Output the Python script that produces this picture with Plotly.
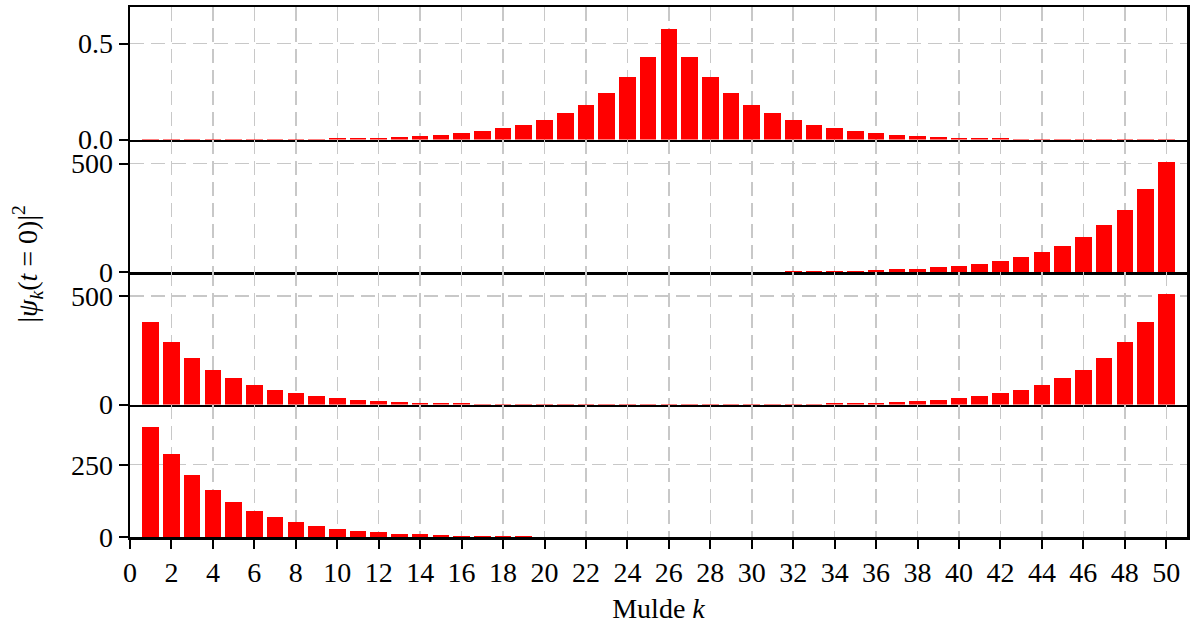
import plotly.graph_objects as go
from plotly.subplots import make_subplots

# Mulden k = 1 .. 50
mulde = list(range(1, 51))

# Panel 1: Wellenpaket um Mulde 26
psi_mitte = [
    0.0004, 0.0006, 0.0008, 0.0010, 0.0014, 0.0018, 0.0024, 0.0033, 0.0043, 0.0058,
    0.0077, 0.0103, 0.0137, 0.0183, 0.0243, 0.0325, 0.0433, 0.0577, 0.0769, 0.103,
    0.137, 0.182, 0.243, 0.324, 0.432, 0.576, 0.432, 0.324, 0.243, 0.182,
    0.137, 0.103, 0.0769, 0.0577, 0.0433, 0.0325, 0.0243, 0.0183, 0.0137, 0.0103,
    0.0077, 0.0058, 0.0043, 0.0033, 0.0024, 0.0018, 0.0014, 0.0010, 0.0008, 0.0006,
]

# Panel 2: am rechten Rand konzentriert
psi_rechts = [
    0.0004, 0.0005, 0.0007, 0.0009, 0.0012, 0.0016, 0.002, 0.003, 0.004, 0.005,
    0.007, 0.009, 0.012, 0.016, 0.02, 0.03, 0.04, 0.05, 0.07, 0.09,
    0.12, 0.16, 0.22, 0.29, 0.38, 0.51, 0.68, 0.91, 1.21, 1.61,
    2.15, 2.87, 3.83, 5.10, 6.80, 9.07, 12.1, 16.1, 21.5, 28.7,
    38.2, 50.9, 67.9, 90.6, 120.8, 161.0, 214.7, 286.3, 381.8, 509.0,
]

# Panel 3: an beiden Raendern
psi_beide = [
    382.0, 286.5, 214.9, 161.2, 120.9, 90.7, 68.0, 51.0, 38.3, 28.7,
    21.5, 16.1, 12.1, 9.08, 6.81, 5.11, 3.83, 2.88, 2.16, 1.62,
    1.21, 0.91, 0.68, 0.52, 0.42, 0.54, 0.69, 0.91, 1.21, 1.61,
    2.15, 2.87, 3.83, 5.10, 6.80, 9.07, 12.1, 16.1, 21.5, 28.7,
    38.2, 50.9, 67.9, 90.6, 120.8, 161.0, 214.7, 286.3, 381.8, 509.0,
]

# Panel 4: am linken Rand konzentriert
psi_links = [
    382.0, 286.5, 214.9, 161.2, 120.9, 90.7, 68.0, 51.0, 38.3, 28.7,
    21.5, 16.1, 12.1, 9.08, 6.81, 5.11, 3.83, 2.88, 2.16, 1.62,
    1.21, 0.91, 0.68, 0.51, 0.38, 0.29, 0.22, 0.16, 0.12, 0.09,
    0.07, 0.05, 0.04, 0.03, 0.02, 0.016, 0.012, 0.009, 0.007, 0.005,
    0.004, 0.003, 0.002, 0.0016, 0.0012, 0.0009, 0.0007, 0.0005, 0.0004, 0.0003,
]

x_ticks = list(range(0, 51, 2))
panels = [
    (psi_mitte, [0.0, 0.5], ["0.0", "0.5"]),
    (psi_rechts, [0, 500], ["0", "500"]),
    (psi_beide, [0, 500], ["0", "500"]),
    (psi_links, [0, 250], ["0", "250"]),
]

FONT = "Liberation Serif, Times New Roman, serif"
GRID = "#c8c8c8"
LW = 2.5

fig = make_subplots(rows=4, cols=1, shared_xaxes=True, vertical_spacing=0)

for i, (werte, tv, tt) in enumerate(panels, start=1):
    fig.add_trace(
        go.Bar(x=mulde, y=werte, width=0.8,
               marker=dict(color="#ff0000", line=dict(width=0)),
               showlegend=False),
        row=i, col=1,
    )
    fig.update_yaxes(
        range=[0, 1.2 * max(werte)],
        tickvals=tv, ticktext=tt,
        ticks="outside", ticklen=9, tickwidth=2, tickcolor="black",
        showline=True, linecolor="black", linewidth=LW, mirror=True,
        showgrid=True, gridcolor=GRID, gridwidth=1.5, griddash="14px,7px",
        zeroline=False,
        tickfont=dict(family=FONT, size=28, color="black"),
        row=i, col=1,
    )
    fig.update_xaxes(
        range=[0, 51],
        tickvals=x_ticks,
        ticks="outside" if i == 4 else "", ticklen=9, tickwidth=2, tickcolor="black",
        showticklabels=(i == 4),
        # only the top panel draws its upper frame; the panel above
        # supplies the shared boundary line for the others
        showline=True, linecolor="black", linewidth=LW, mirror=(i == 1),
        showgrid=True, gridcolor=GRID, gridwidth=1.5, griddash="14px,7px",
        zeroline=False,
        tickfont=dict(family=FONT, size=28, color="black"),
        row=i, col=1,
    )

fig.update_xaxes(
    title=dict(text="Mulde <i>k</i>", font=dict(family=FONT, size=28, color="black"), standoff=12),
    row=4, col=1,
)

fig.add_annotation(
    text="|<i>ψ<sub>k</sub></i>(<i>t</i> = 0)|<sup>2</sup>",
    xref="paper", yref="paper", x=-0.097, y=0.515,
    xanchor="center", yanchor="middle", textangle=-90, showarrow=False,
    font=dict(family=FONT, size=28, color="black"),
)

fig.update_layout(
    width=1199, height=626,
    margin=dict(l=130, r=12, t=4, b=89),
    paper_bgcolor="white", plot_bgcolor="white",
    bargap=0,
)

# static rendering keeps sub-pixel bars at their true (invisible) height
fig.write_html("out.html", config={"staticPlot": True})
